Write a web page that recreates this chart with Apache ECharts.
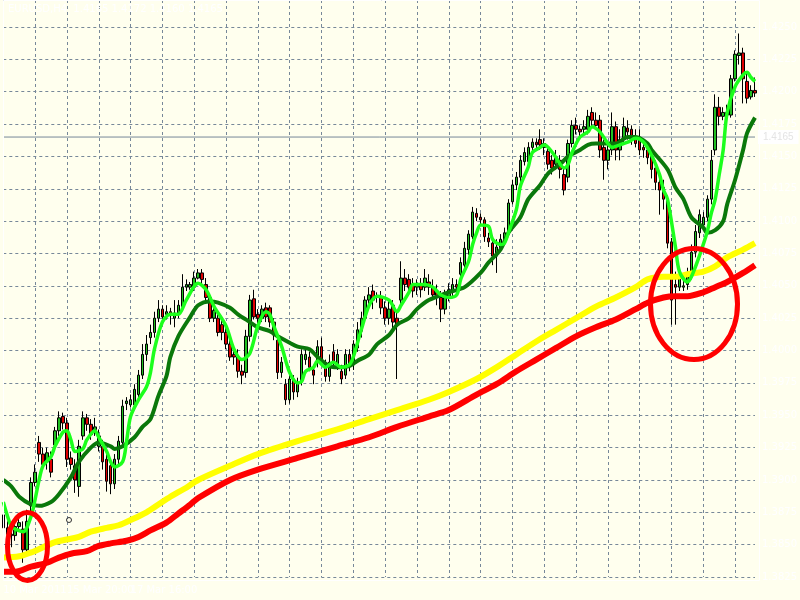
<!DOCTYPE html>
<html><head><meta charset="utf-8">
<script src="https://cdn.jsdelivr.net/npm/echarts/dist/echarts.min.js"></script>
<style>html,body{margin:0;padding:0;background:#ffffee;}#c{width:800px;height:600px;}</style>
</head><body><div id="c"></div>
<script>
// OHLC candles: [open, close, low, high]
const candles = [
[1.3873,1.3863,1.3858,1.3879],[1.3863,1.3858,1.3853,1.3868],[1.3858,1.3857,1.3848,1.3863],[1.3857,1.3864,1.3853,1.3870],
[1.3864,1.3867,1.3860,1.3873],[1.3862,1.3846,1.3836,1.3868],[1.3846,1.3868,1.3842,1.3877],[1.3880,1.3898,1.3876,1.3902],
[1.3898,1.3906,1.3895,1.3912],[1.3929,1.3920,1.3914,1.3934],[1.3920,1.3912,1.3907,1.3925],[1.3914,1.3921,1.3908,1.3925],
[1.3916,1.3906,1.3902,1.3922],[1.3927,1.3938,1.3924,1.3941],[1.3938,1.3948,1.3934,1.3953],[1.3949,1.3944,1.3939,1.3952],
[1.3944,1.3916,1.3910,1.3948],[1.3917,1.3912,1.3908,1.3922],[1.3911,1.3900,1.3890,1.3916],[1.3895,1.3926,1.3887,1.3931],
[1.3934,1.3948,1.3931,1.3953],[1.3948,1.3943,1.3938,1.3951],[1.3943,1.3935,1.3931,1.3947],[1.3939,1.3941,1.3934,1.3948],
[1.3926,1.3934,1.3922,1.3939],[1.3926,1.3914,1.3908,1.3931],[1.3916,1.3899,1.3891,1.3920],[1.3911,1.3897,1.3889,1.3914],
[1.3897,1.3916,1.3893,1.3920],[1.3916,1.3930,1.3912,1.3934],[1.3929,1.3957,1.3927,1.3962],[1.3959,1.3961,1.3954,1.3964],
[1.3958,1.3962,1.3956,1.3966],[1.3958,1.3970,1.3954,1.3974],[1.3966,1.3981,1.3962,1.3985],[1.3981,1.3997,1.3978,1.4005],
[1.3997,1.4005,1.3992,1.4012],[1.4010,1.4014,1.4005,1.4020],[1.4014,1.4025,1.4010,1.4030],[1.4025,1.4032,1.4022,1.4039],
[1.4032,1.4026,1.4022,1.4035],[1.4028,1.4030,1.4024,1.4035],[1.4030,1.4027,1.4020,1.4033],[1.4025,1.4029,1.4018,1.4039],
[1.4029,1.4035,1.4025,1.4039],[1.4034,1.4049,1.4032,1.4059],[1.4049,1.4051,1.4046,1.4055],[1.4049,1.4051,1.4047,1.4053],
[1.4049,1.4056,1.4046,1.4061],[1.4056,1.4060,1.4055,1.4063],[1.4060,1.4055,1.4051,1.4063],[1.4051,1.4041,1.4038,1.4056],
[1.4041,1.4025,1.4022,1.4043],[1.4025,1.4031,1.4022,1.4035],[1.4025,1.4014,1.4011,1.4030],[1.4020,1.4014,1.4008,1.4025],
[1.4014,1.4005,1.4001,1.4018],[1.4005,1.3995,1.3992,1.4008],[1.3997,1.3995,1.3989,1.4001],[1.3995,1.3984,1.3979,1.4001],
[1.3984,1.3981,1.3974,1.3989],[1.3983,1.4011,1.3979,1.4016],[1.4011,1.4039,1.4007,1.4043],[1.4040,1.4026,1.4024,1.4047],
[1.4028,1.4025,1.4020,1.4032],[1.4025,1.4032,1.4022,1.4035],[1.4033,1.4026,1.4022,1.4037],[1.4033,1.4022,1.4018,1.4035],
[1.4022,1.4012,1.4008,1.4025],[1.4008,1.3983,1.3978,1.4012],[1.3983,1.3991,1.3979,1.3995],[1.3974,1.3962,1.3958,1.3978],
[1.3962,1.3978,1.3959,1.3981],[1.3978,1.3968,1.3962,1.3981],[1.3968,1.3975,1.3964,1.3979],[1.3976,1.3997,1.3973,1.4001],
[1.3993,1.3997,1.3989,1.4001],[1.3995,1.3987,1.3984,1.3999],[1.3985,1.3981,1.3974,1.3989],[1.3991,1.4003,1.3987,1.4008],
[1.4003,1.3993,1.3989,1.4010],[1.3987,1.3980,1.3976,1.3993],[1.3980,1.3991,1.3976,1.3997],[1.3999,1.3991,1.3987,1.4005],
[1.3989,1.3997,1.3985,1.4001],[1.3984,1.3978,1.3974,1.3989],[1.3981,1.3997,1.3978,1.4001],[1.3997,1.3989,1.3984,1.4001],
[1.3989,1.4005,1.3985,1.4008],[1.4002,1.4016,1.3999,1.4022],[1.4015,1.4025,1.4010,1.4030],[1.4025,1.4039,1.4022,1.4042],
[1.4039,1.4043,1.4035,1.4049],[1.4046,1.4039,1.4032,1.4051],[1.4041,1.4041,1.4037,1.4045],[1.4041,1.4033,1.4028,1.4046],
[1.4033,1.4025,1.4020,1.4038],[1.4025,1.4032,1.4020,1.4039],[1.4035,1.4022,1.4016,1.4039],[1.4025,1.4020,1.3978,1.4030],
[1.4039,1.4056,1.4035,1.4069],[1.4056,1.4051,1.4046,1.4063],[1.4055,1.4049,1.4043,1.4059],[1.4051,1.4046,1.4041,1.4056],
[1.4049,1.4051,1.4043,1.4055],[1.4051,1.4047,1.4041,1.4056],[1.4049,1.4056,1.4046,1.4063],[1.4053,1.4049,1.4043,1.4059],
[1.4049,1.4043,1.4039,1.4055],[1.4045,1.4041,1.4035,1.4051],[1.4041,1.4032,1.4022,1.4046],[1.4032,1.4043,1.4028,1.4047],
[1.4042,1.4047,1.4038,1.4052],[1.4045,1.4051,1.4041,1.4056],[1.4051,1.4049,1.4046,1.4055],[1.4059,1.4068,1.4055,1.4072],
[1.4066,1.4079,1.4063,1.4084],[1.4078,1.4090,1.4074,1.4093],[1.4088,1.4107,1.4086,1.4111],[1.4106,1.4103,1.4100,1.4110],
[1.4103,1.4101,1.4097,1.4106],[1.4101,1.4088,1.4084,1.4103],[1.4087,1.4084,1.4080,1.4091],[1.4083,1.4073,1.4066,1.4087],
[1.4073,1.4080,1.4060,1.4086],[1.4079,1.4086,1.4076,1.4090],[1.4086,1.4091,1.4082,1.4095],[1.4091,1.4114,1.4089,1.4117],
[1.4115,1.4128,1.4113,1.4132],[1.4128,1.4134,1.4124,1.4138],[1.4134,1.4147,1.4130,1.4151],[1.4146,1.4153,1.4143,1.4157],
[1.4146,1.4157,1.4143,1.4161],[1.4157,1.4161,1.4155,1.4164],[1.4161,1.4159,1.4155,1.4164],[1.4163,1.4159,1.4155,1.4171],
[1.4157,1.4160,1.4151,1.4164],[1.4154,1.4144,1.4140,1.4157],[1.4147,1.4141,1.4136,1.4151],[1.4144,1.4149,1.4140,1.4155],
[1.4147,1.4140,1.4133,1.4151],[1.4136,1.4124,1.4120,1.4141],[1.4134,1.4160,1.4130,1.4163],[1.4160,1.4174,1.4157,1.4178],
[1.4174,1.4171,1.4167,1.4180],[1.4171,1.4169,1.4163,1.4174],[1.4171,1.4173,1.4167,1.4178],[1.4171,1.4181,1.4167,1.4186],
[1.4184,1.4178,1.4172,1.4188],[1.4178,1.4174,1.4171,1.4184],[1.4178,1.4155,1.4149,1.4182],[1.4157,1.4147,1.4132,1.4163],
[1.4147,1.4155,1.4140,1.4159],[1.4155,1.4173,1.4151,1.4184],[1.4173,1.4155,1.4147,1.4177],[1.4155,1.4163,1.4147,1.4171],
[1.4163,1.4173,1.4159,1.4180],[1.4172,1.4169,1.4163,1.4178],[1.4171,1.4163,1.4159,1.4174],[1.4164,1.4160,1.4157,1.4171],
[1.4165,1.4155,1.4151,1.4171],[1.4157,1.4155,1.4149,1.4163],[1.4155,1.4149,1.4144,1.4160],[1.4151,1.4140,1.4133,1.4155],
[1.4141,1.4130,1.4124,1.4147],[1.4130,1.4124,1.4105,1.4136],[1.4126,1.4117,1.4109,1.4132],[1.4117,1.4083,1.4079,1.4120],
[1.4084,1.4039,1.4020,1.4087],[1.4051,1.4049,1.4020,1.4061],[1.4049,1.4057,1.4046,1.4063],[1.4049,1.4050,1.4046,1.4055],
[1.4051,1.4060,1.4047,1.4064],[1.4057,1.4076,1.4055,1.4082],[1.4076,1.4092,1.4072,1.4097],[1.4091,1.4105,1.4087,1.4109],
[1.4097,1.4103,1.4093,1.4107],[1.4103,1.4117,1.4100,1.4120],[1.4117,1.4147,1.4113,1.4155],[1.4155,1.4188,1.4151,1.4198],
[1.4188,1.4181,1.4174,1.4196],[1.4181,1.4184,1.4178,1.4188],[1.4182,1.4184,1.4178,1.4190],[1.4182,1.4210,1.4180,1.4213],
[1.4210,1.4229,1.4208,1.4232],[1.4228,1.4230,1.4221,1.4245],[1.4230,1.4210,1.4191,1.4234],[1.4208,1.4195,1.4191,1.4215],
[1.4196,1.4201,1.4194,1.4205],[1.4201,1.4199,1.4196,1.4211]
];
// Moving averages: [bar index, value]
const maFast = [[0,1.3883],[2,1.3864],[3,1.3862],[5,1.3860],[7,1.3872],[8,1.3885],[9,1.3900],[10,1.3911],[12,1.3918],[13,1.3926],[15,1.3937],[16,1.3938],[17,1.3931],[18,1.3922],[20,1.3924],[21,1.3931],[23,1.3938],[24,1.3933],[26,1.3922],[27,1.3914],[28,1.3910],[30,1.3914],[31,1.3930],[32,1.3949],[34,1.3962],[36,1.3972],[37,1.3983],[38,1.4001],[40,1.4022],[42,1.4028],[44,1.4028],[46,1.4039],[49,1.4052],[51,1.4047],[53,1.4034],[56,1.4019],[58,1.4001],[60,1.3993],[62,1.3998],[64,1.4019],[66,1.4030],[67,1.4028],[68,1.4019],[70,1.4003],[72,1.3983],[74,1.3975],[75,1.3976],[76,1.3984],[78,1.3987],[79,1.3992],[81,1.3987],[83,1.3991],[85,1.3987],[87,1.3989],[88,1.3995],[90,1.4016],[92,1.4035],[94,1.4042],[97,1.4039],[99,1.4030],[100,1.4035],[102,1.4045],[103,1.4051],[106,1.4051],[108,1.4049],[110,1.4043],[112,1.4041],[114,1.4043],[115,1.4055],[117,1.4069],[118,1.4082],[119,1.4091],[120,1.4097],[122,1.4096],[123,1.4086],[125,1.4082],[126,1.4083],[127,1.4091],[129,1.4109],[130,1.4127],[132,1.4142],[133,1.4153],[135,1.4157],[136,1.4159],[137,1.4157],[139,1.4149],[140,1.4144],[141,1.4141],[142,1.4144],[143,1.4153],[145,1.4165],[147,1.4169],[148,1.4173],[150,1.4169],[152,1.4160],[153,1.4157],[155,1.4159],[157,1.4161],[159,1.4164],[161,1.4161],[163,1.4151],[165,1.4136],[166,1.4124],[167,1.4117],[169,1.4080],[170,1.4061],[172,1.4053],[173,1.4057],[175,1.4073],[177,1.4092],[178,1.4106],[179,1.4117],[180,1.4136],[181,1.4155],[182,1.4184],[184,1.4204],[186,1.4213],[187,1.4215],[188,1.4211],[189,1.4208]];
const maSlow = [[0,1.3900],[2,1.3895],[4,1.3887],[7,1.3881],[9,1.3880],[12,1.3883],[14,1.3889],[17,1.3902],[19,1.3914],[22,1.3925],[24,1.3929],[27,1.3926],[28,1.3924],[30,1.3926],[33,1.3933],[35,1.3941],[37,1.3947],[39,1.3965],[41,1.3980],[42,1.3995],[44,1.4011],[47,1.4026],[49,1.4035],[52,1.4038],[54,1.4037],[57,1.4033],[59,1.4028],[62,1.4022],[64,1.4018],[67,1.4015],[69,1.4011],[72,1.4006],[74,1.4003],[77,1.4001],[79,1.3995],[82,1.3988],[84,1.3987],[87,1.3988],[89,1.3992],[92,1.3997],[94,1.4005],[97,1.4012],[99,1.4020],[102,1.4025],[104,1.4032],[107,1.4039],[112,1.4045],[116,1.4049],[120,1.4060],[122,1.4068],[125,1.4078],[127,1.4091],[130,1.4103],[132,1.4117],[135,1.4128],[137,1.4137],[140,1.4144],[142,1.4150],[145,1.4155],[147,1.4159],[149,1.4160],[154,1.4160],[157,1.4165],[159,1.4165],[162,1.4160],[163,1.4155],[167,1.4140],[169,1.4126],[171,1.4117],[173,1.4103],[176,1.4095],[177,1.4091],[179,1.4093],[181,1.4100],[182,1.4113],[184,1.4132],[186,1.4155],[187,1.4168],[189,1.4180]];
const maYellow = [[0,1.3840],[4,1.3841],[7,1.3844],[10,1.3848],[13,1.3852],[16,1.3854],[19,1.3856],[22,1.3860],[26,1.3863],[29,1.3865],[32,1.3869],[36,1.3875],[39,1.3881],[42,1.3887],[46,1.3894],[49,1.3900],[57,1.3911],[64,1.3920],[74,1.3930],[84,1.3939],[92,1.3947],[99,1.3954],[107,1.3962],[112,1.3968],[119,1.3978],[124,1.3987],[129,1.3997],[134,1.4007],[139,1.4016],[144,1.4025],[149,1.4034],[154,1.4041],[159,1.4049],[162,1.4055],[166,1.4057],[169,1.4057],[172,1.4059],[176,1.4061],[179,1.4065],[182,1.4072],[186,1.4078],[189,1.4083]];
const maRed = [[0,1.3829],[3,1.3829],[7,1.3833],[11,1.3836],[14,1.3840],[17,1.3843],[21,1.3845],[24,1.3849],[27,1.3851],[31,1.3853],[34,1.3856],[37,1.3861],[41,1.3867],[44,1.3874],[47,1.3881],[49,1.3886],[57,1.3900],[64,1.3908],[74,1.3917],[84,1.3926],[92,1.3933],[99,1.3941],[107,1.3949],[112,1.3954],[119,1.3966],[124,1.3974],[129,1.3984],[134,1.3993],[139,1.4002],[144,1.4011],[149,1.4018],[154,1.4024],[159,1.4032],[162,1.4037],[166,1.4041],[169,1.4042],[172,1.4042],[176,1.4045],[179,1.4049],[182,1.4053],[186,1.4060],[189,1.4066]];
const priceLevel = 1.4165;
const dateLabelIdx = [0, 16, 32];
const dateLabelText = ['10 Mar 2011', '15 Mar 20:00', '17 Mar 16:00'];
const titleText = 'EURUSD,H4  1.4165 1.4172 1.4160 1.4165';
const yMin = 1.3825, yMax = 1.42709, yStep = 0.0025;

const cats = candles.map((_, i) => String(i));
const labelMap = {};
dateLabelIdx.forEach((k, j) => { labelMap[k] = dateLabelText[j]; });
const priceLineData = [[0, priceLevel], [candles.length - 1, priceLevel]];

const chart = echarts.init(document.getElementById('c'), null, {renderer: 'canvas'});
const gridCol = '#778899';
chart.setOption({
  animation: false,
  backgroundColor: '#ffffee',
  grid: {left: 3.3, right: 40.7, top: 0, bottom: 23, containLabel: false},
  xAxis: {
    type: 'category', data: cats, boundaryGap: false,
    axisLine: {show: false}, axisTick: {show: false},
    axisLabel: {interval: 0, formatter: (v, i) => labelMap[i] || '', color: '#ffffff', align: 'left', margin: 8, fontSize: 10, fontFamily: 'DejaVu Sans'},
    splitLine: {show: true, interval: (i) => i > 0 && i % 8 === 0, lineStyle: {color: gridCol, type: [3, 3], width: 1}}
  },
  yAxis: {
    type: 'value', position: 'right', min: yMin, max: yMax, interval: yStep,
    axisLine: {show: false}, axisTick: {show: false},
    axisLabel: {color: '#ffffff', margin: 7, fontSize: 10, fontFamily: 'DejaVu Sans',
      formatter: (v) => (v > 1.42505 || v < 1.38245) ? '' : v.toFixed(4)},
    splitLine: {show: true, lineStyle: {color: gridCol, type: [3, 3], width: 1}}
  },
  graphic: [
    {type: 'rect', shape: {x: 3.5, y: 0.5, width: 756, height: 580}, style: {fill: 'none', stroke: '#ffffff', lineWidth: 1}, z: 10},
    {type: 'text', x: 8, y: 4, style: {text: titleText, fill: '#ffffff', font: '10px "DejaVu Sans"'}, z: 10},
    {type: 'circle', shape: {cx: 69, cy: 520, r: 2.5}, style: {fill: 'none', stroke: '#333333', lineWidth: 1}, z: 50},
    {type: 'ellipse', shape: {cx: 27.5, cy: 546.5, rx: 20, ry: 34}, style: {fill: 'none', stroke: '#ff0000', lineWidth: 5}, z: 100},
    {type: 'ellipse', shape: {cx: 694, cy: 304, rx: 43.5, ry: 55.5}, style: {fill: 'none', stroke: '#ff0000', lineWidth: 5}, z: 100}
  ],
  series: [
    {type: 'line', data: priceLineData, symbol: 'none', z: 1, silent: true,
     lineStyle: {color: gridCol, width: 1, type: 'solid'},
     endLabel: {show: true, formatter: priceLevel.toFixed(4), color: '#e4e4e4', backgroundColor: '#ffffff', padding: [2, 5], fontSize: 10, distance: 3}},
    {type: 'candlestick', data: candles, barWidth: 3, z: 2,
     itemStyle: {color: '#22c022', color0: '#e00000', borderColor: '#000000', borderColor0: '#000000', borderWidth: 1}},
    {type: 'line', data: maRed, symbol: 'none', smooth: 0.3, z: 3, lineStyle: {color: '#ff0000', width: 6}},
    {type: 'line', data: maYellow, symbol: 'none', smooth: 0.3, z: 3, lineStyle: {color: '#ffff00', width: 6}},
    {type: 'line', data: maSlow, symbol: 'none', smooth: 0.3, z: 4, lineStyle: {color: '#0a780a', width: 4}},
    {type: 'line', data: maFast, symbol: 'none', smooth: 0.3, z: 5, lineStyle: {color: '#1cff1c', width: 3.5}}
  ]
});
</script></body></html>
